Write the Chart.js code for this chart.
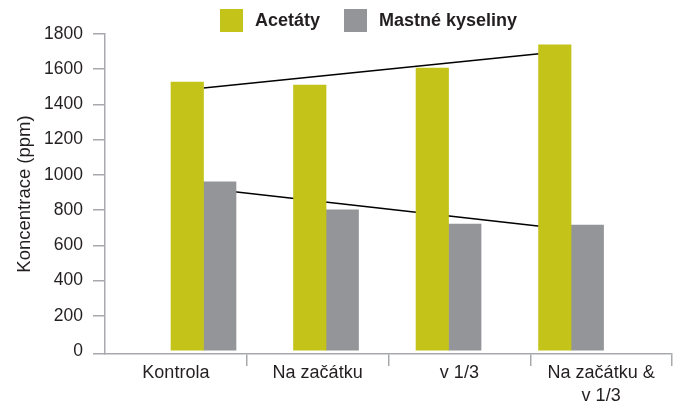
<!DOCTYPE html>
<html>
<head>
<meta charset="utf-8">
<script src="https://cdn.jsdelivr.net/npm/chart.js@4/dist/chart.umd.min.js"></script>
<style>
  html, body { margin: 0; padding: 0; background: #fff; }
  #wrap { position: relative; width: 678px; height: 401px; overflow: hidden; }
  #chart { position: absolute; left: 0; top: 0; }
  .leg { position: absolute; top: 9px; height: 23px; display: flex; align-items: center;
         font: bold 18px "Liberation Sans", Arial, sans-serif; color: #231f20; }
  .leg i { display: inline-block; width: 23px; height: 23px; margin-right: 12px; }
</style>
</head>
<body>
<div id="wrap">
  <canvas id="chart" width="678" height="401"></canvas>
  <div class="leg" style="left:220px"><i style="background:#c3c31a"></i>Acetáty</div>
  <div class="leg" style="left:344px"><i style="background:#939598"></i>Mastné kyseliny</div>
</div>
<script>
// --- DATOS ---
const kategorie = ['Kontrola', 'Na začátku', 'v 1/3', ['Na začátku &', 'v 1/3']];
const acetaty = [1527, 1510, 1607, 1738];
const mastneKyseliny = [960, 801, 721, 715];
const trendAcetaty = [1493, 1706];       // začátek / konec trendu
const trendKyseliny = [924, 689];
const yTicks = [0, 200, 400, 600, 800, 1000, 1200, 1400, 1600, 1800];

const ZELENA = '#c3c31a';
const SEDA = '#939598';
const OSA = '#a7a9ac';
const TEXT = '#231f20';
const FONT = '"Liberation Sans", Arial, sans-serif';
const Y_MIN = -17; // osa x sedí kousek pod nulou

const body = (vals) => vals.map((v, i) => ({ x: i, y: v }));
const posledni = kategorie.length - 1;

const ctx = document.getElementById('chart').getContext('2d');
new Chart(ctx, {
  data: {
    labels: kategorie,
    datasets: [
      { type: 'bar', label: 'Acetáty', data: body(acetaty), backgroundColor: ZELENA,
        xAxisID: 'xb', order: 1, barThickness: 32.5 },
      { type: 'bar', label: 'Mastné kyseliny', data: body(mastneKyseliny), backgroundColor: SEDA,
        xAxisID: 'xb', order: 1, barThickness: 32.5 },
      { type: 'line', data: [{ x: 0, y: trendAcetaty[0] }, { x: posledni, y: trendAcetaty[1] }],
        borderColor: '#000', borderWidth: 1.5, pointRadius: 0, xAxisID: 'xb', order: 10 },
      { type: 'line', data: [{ x: 0, y: trendKyseliny[0] }, { x: posledni, y: trendKyseliny[1] }],
        borderColor: '#000', borderWidth: 1.5, pointRadius: 0, xAxisID: 'xb', order: 10 }
    ]
  },
  options: {
    responsive: false,
    animation: false,
    layout: { padding: { left: 0, right: 6, top: 34, bottom: 0 } },
    plugins: { legend: { display: false }, tooltip: { enabled: false } },
    scales: {
      xb: {
        type: 'linear', display: false, offset: false, min: -0.804, max: 3.824
      },
      x: {
        type: 'category',
        offset: true,
        afterFit: (a) => { a.height = 47; },
        border: { display: true, color: OSA, width: 1.5 },
        grid: {
          offset: true, drawOnChartArea: false, tickLength: 12, lineWidth: 1.5,
          color: (c) => c.index === 0 ? 'rgba(0,0,0,0)' : OSA
        },
        ticks: { color: TEXT, font: { family: FONT, size: 18, lineHeight: 1.3 }, padding: -5,
                 maxRotation: 0, autoSkip: false }
      },
      y: {
        min: Y_MIN, max: 1800,
        afterFit: (a) => { a.width = 105; },
        afterBuildTicks: (a) => { a.ticks = [Y_MIN, ...yTicks].map(v => ({ value: v })); },
        border: { display: true, color: OSA, width: 1.5 },
        grid: {
          drawOnChartArea: false, tickLength: 12, lineWidth: 1.5,
          color: (c) => (c.tick && c.tick.value === 0) ? 'rgba(0,0,0,0)' : OSA
        },
        ticks: { color: TEXT, font: { family: FONT, size: 17.5 }, padding: 10,
                 callback: (v) => v === Y_MIN ? '' : String(v) },
        title: { display: true, text: 'Koncentrace (ppm)', color: TEXT,
                 font: { family: FONT, size: 18.5 }, padding: { top: 14, bottom: 0 } }
      }
    }
  }
});
</script>
</body>
</html>
